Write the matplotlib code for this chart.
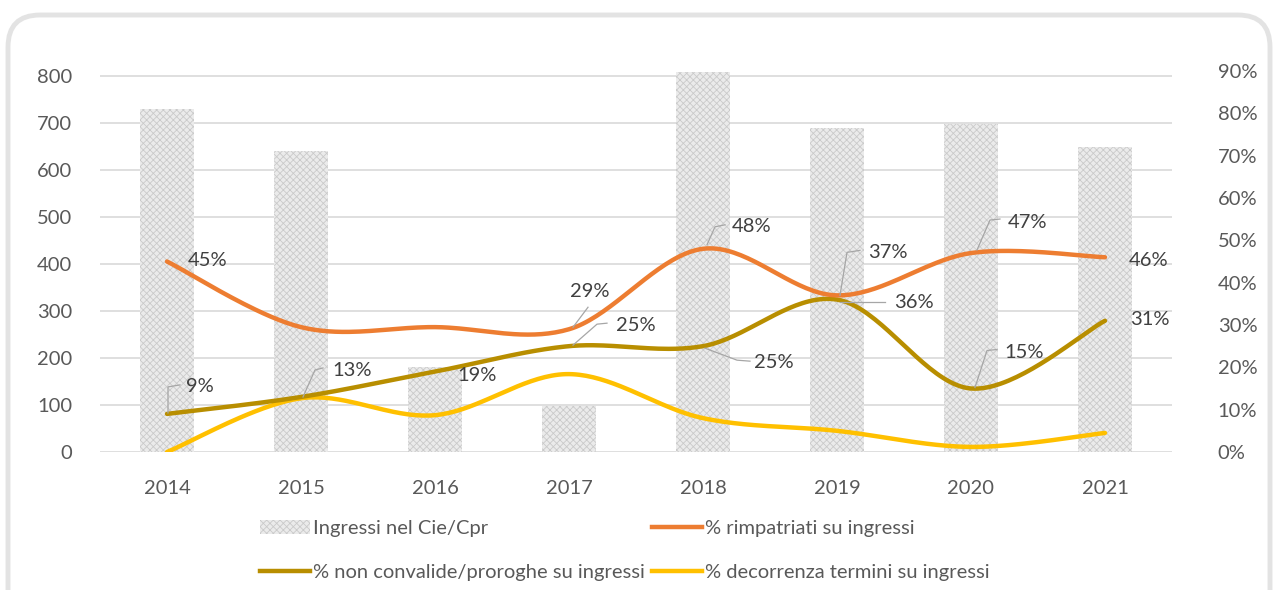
import numpy as np
import matplotlib
matplotlib.use("Agg")
import matplotlib.pyplot as plt
from matplotlib.patches import FancyBboxPatch, Patch
from matplotlib.lines import Line2D
from matplotlib.transforms import IdentityTransform
from matplotlib.ticker import PercentFormatter

# data
years = ["2014", "2015", "2016", "2017", "2018", "2019", "2020", "2021"]
ingressi = [730, 640, 181, 98, 808, 689, 698, 649]
rimpatriati = [45, 29.5, 29.5, 29, 48, 37, 47, 46]
non_convalide = [9, 13, 19, 25, 25, 36, 15, 31]
decorrenza = [0, 12.7, 8.7, 18.4, 8, 5, 1.2, 4.5]

# which points get a data label: index -> (dx, dy) text offset in pixels,
# and optional leader line points relative to the data point
rimpatriati_labels = {
    0: ((21, 1), None),
    3: ((1, 38), [(4, 2), (19, 22)]),
    4: ((29, 22), [(4, 4), (12, 22), (22, 24)]),
    5: ((31, 43), [(3, 0), (10, 43), (23, 45)]),
    6: ((37, 31), [(6, 3), (19, 33), (29, 34)]),
    7: ((24, -3), None),
}
non_convalide_labels = {
    0: ((19, 27), [(1, 1), (1, 27), (13, 29)]),
    1: ((31, 26), [(2, 0), (14, 27), (22, 29)]),
    2: ((22, -4), None),
    3: ((47, 21), [(4, 1), (28, 22), (38, 23)]),
    4: ((51, -16), [(2, -2), (34, -14), (47, -15)]),
    5: ((57, -3), [(3, -2), (48, -2)]),
    6: ((33, 36), [(4, 1), (16, 38), (26, 39)]),
    7: ((25, 1), None),
}

plt.rcParams['font.family'] = ['Lato', 'DejaVu Sans']
plt.rcParams['hatch.linewidth'] = 0.6

FS = 14.5
TICK_COLOR = '#595959'
LABEL_COLOR = '#404040'
ORANGE = '#ED7D31'
GOLD = '#B88E00'
YELLOW = '#FFC000'
BAR_FACE = '#ebebeb'
BAR_HATCH = '#cacaca'


def smooth(xs, ys, n=40):
    # smoothed line: cubic bezier segments through every point
    px = np.concatenate([[xs[0]], xs, [xs[-1]]]).astype(float)
    py = np.concatenate([[ys[0]], ys, [ys[-1]]]).astype(float)
    out_x, out_y = [], []
    t = np.linspace(0, 1, n)
    for i in range(1, len(px) - 2):
        p0 = np.array([px[i], py[i]])
        p3 = np.array([px[i + 1], py[i + 1]])
        c1 = p0 + (np.array([px[i + 1], py[i + 1]]) - np.array([px[i - 1], py[i - 1]])) / 6
        c2 = p3 - (np.array([px[i + 2], py[i + 2]]) - np.array([px[i], py[i]])) / 6
        pts = ((1 - t) ** 3)[:, None] * p0 + (3 * (1 - t) ** 2 * t)[:, None] * c1 \
            + (3 * (1 - t) * t ** 2)[:, None] * c2 + (t ** 3)[:, None] * p3
        out_x.extend(pts[:, 0])
        out_y.extend(pts[:, 1])
    return np.array(out_x), np.array(out_y)


fig = plt.figure(figsize=(12.74, 5.90), dpi=100)

# rounded frame around the whole chart
frame = FancyBboxPatch((8, -40), 1262, 615, boxstyle="round,pad=0,rounding_size=32",
                       transform=IdentityTransform(), facecolor='none',
                       edgecolor='#e3e3e3', linewidth=3.5)
fig.add_artist(frame)

ax = fig.add_axes([100 / 1274, 138 / 590, 1072 / 1274, 381 / 590])
x = np.arange(len(years))

# bars on the left axis
ax.bar(x, ingressi, width=0.4, color=BAR_FACE, edgecolor=BAR_HATCH, hatch='xxxxx',
       linewidth=0, zorder=2)
ax.set_xlim(-0.5, len(years) - 0.5)
ax.set_ylim(0, 810)
ax.set_yticks(range(0, 801, 100))
ax.grid(axis='y', color='#dcdcdc', linewidth=1.3, zorder=0)
ax.set_axisbelow(True)
ax.set_xticks(x)
ax.set_xticklabels(years)
for s in ax.spines.values():
    s.set_visible(False)
ax.tick_params(axis='both', length=0, labelsize=FS, labelcolor=TICK_COLOR)
ax.tick_params(axis='x', pad=20)
ax.tick_params(axis='y', pad=20)

# percentage lines on the right axis
ax2 = ax.twinx()
ax2.set_ylim(0, 90)
ax2.set_yticks(range(0, 91, 10))
ax2.yaxis.set_major_formatter(PercentFormatter(decimals=0))
for s in ax2.spines.values():
    s.set_visible(False)
ax2.tick_params(axis='y', length=0, labelsize=FS, labelcolor=TICK_COLOR, pad=33)

for vals, col in [(decorrenza, YELLOW), (non_convalide, GOLD), (rimpatriati, ORANGE)]:
    sx, sy = smooth(x, vals)
    ax2.plot(sx, sy, color=col, linewidth=3.2, solid_capstyle='round', zorder=3)

# data labels with leader lines
for vals, labels in [(rimpatriati, rimpatriati_labels), (non_convalide, non_convalide_labels)]:
    for i, (offset, leader) in labels.items():
        ax2.annotate(f"{vals[i]:.0f}%", (x[i], vals[i]), xytext=offset,
                     textcoords='offset pixels', ha='left', va='center',
                     fontsize=FS, color=LABEL_COLOR, zorder=5)
        if leader:
            bx, by = ax2.transData.transform((x[i], vals[i]))
            lx = [bx + p[0] for p in leader]
            ly = [by + p[1] for p in leader]
            fig.add_artist(Line2D(lx, ly, transform=IdentityTransform(),
                                  color='#a6a6a6', linewidth=0.9))

# legend in two columns
bar_handle = Patch(facecolor=BAR_FACE, edgecolor=BAR_HATCH, hatch='xxxxx', linewidth=0)
gold_handle = Line2D([], [], color=GOLD, linewidth=3.2)
orange_handle = Line2D([], [], color=ORANGE, linewidth=3.2)
yellow_handle = Line2D([], [], color=YELLOW, linewidth=3.2)

leg_kw = dict(loc='upper left', frameon=False, fontsize=FS, labelcolor=TICK_COLOR,
              handlelength=2.5, handletextpad=0.15, labelspacing=1.35,
              borderpad=0, borderaxespad=0)
leg1 = fig.legend([bar_handle, gold_handle],
                  ["Ingressi nel Cie/Cpr", "% non convalide/proroghe su ingressi"],
                  bbox_to_anchor=(260 / 1274, 1 - 520 / 590), **leg_kw)
leg2 = fig.legend([orange_handle, yellow_handle],
                  ["% rimpatriati su ingressi", "% decorrenza termini su ingressi"],
                  bbox_to_anchor=(652 / 1274, 1 - 520 / 590), **leg_kw)

plt.savefig("out.png", dpi=100, facecolor='white')
